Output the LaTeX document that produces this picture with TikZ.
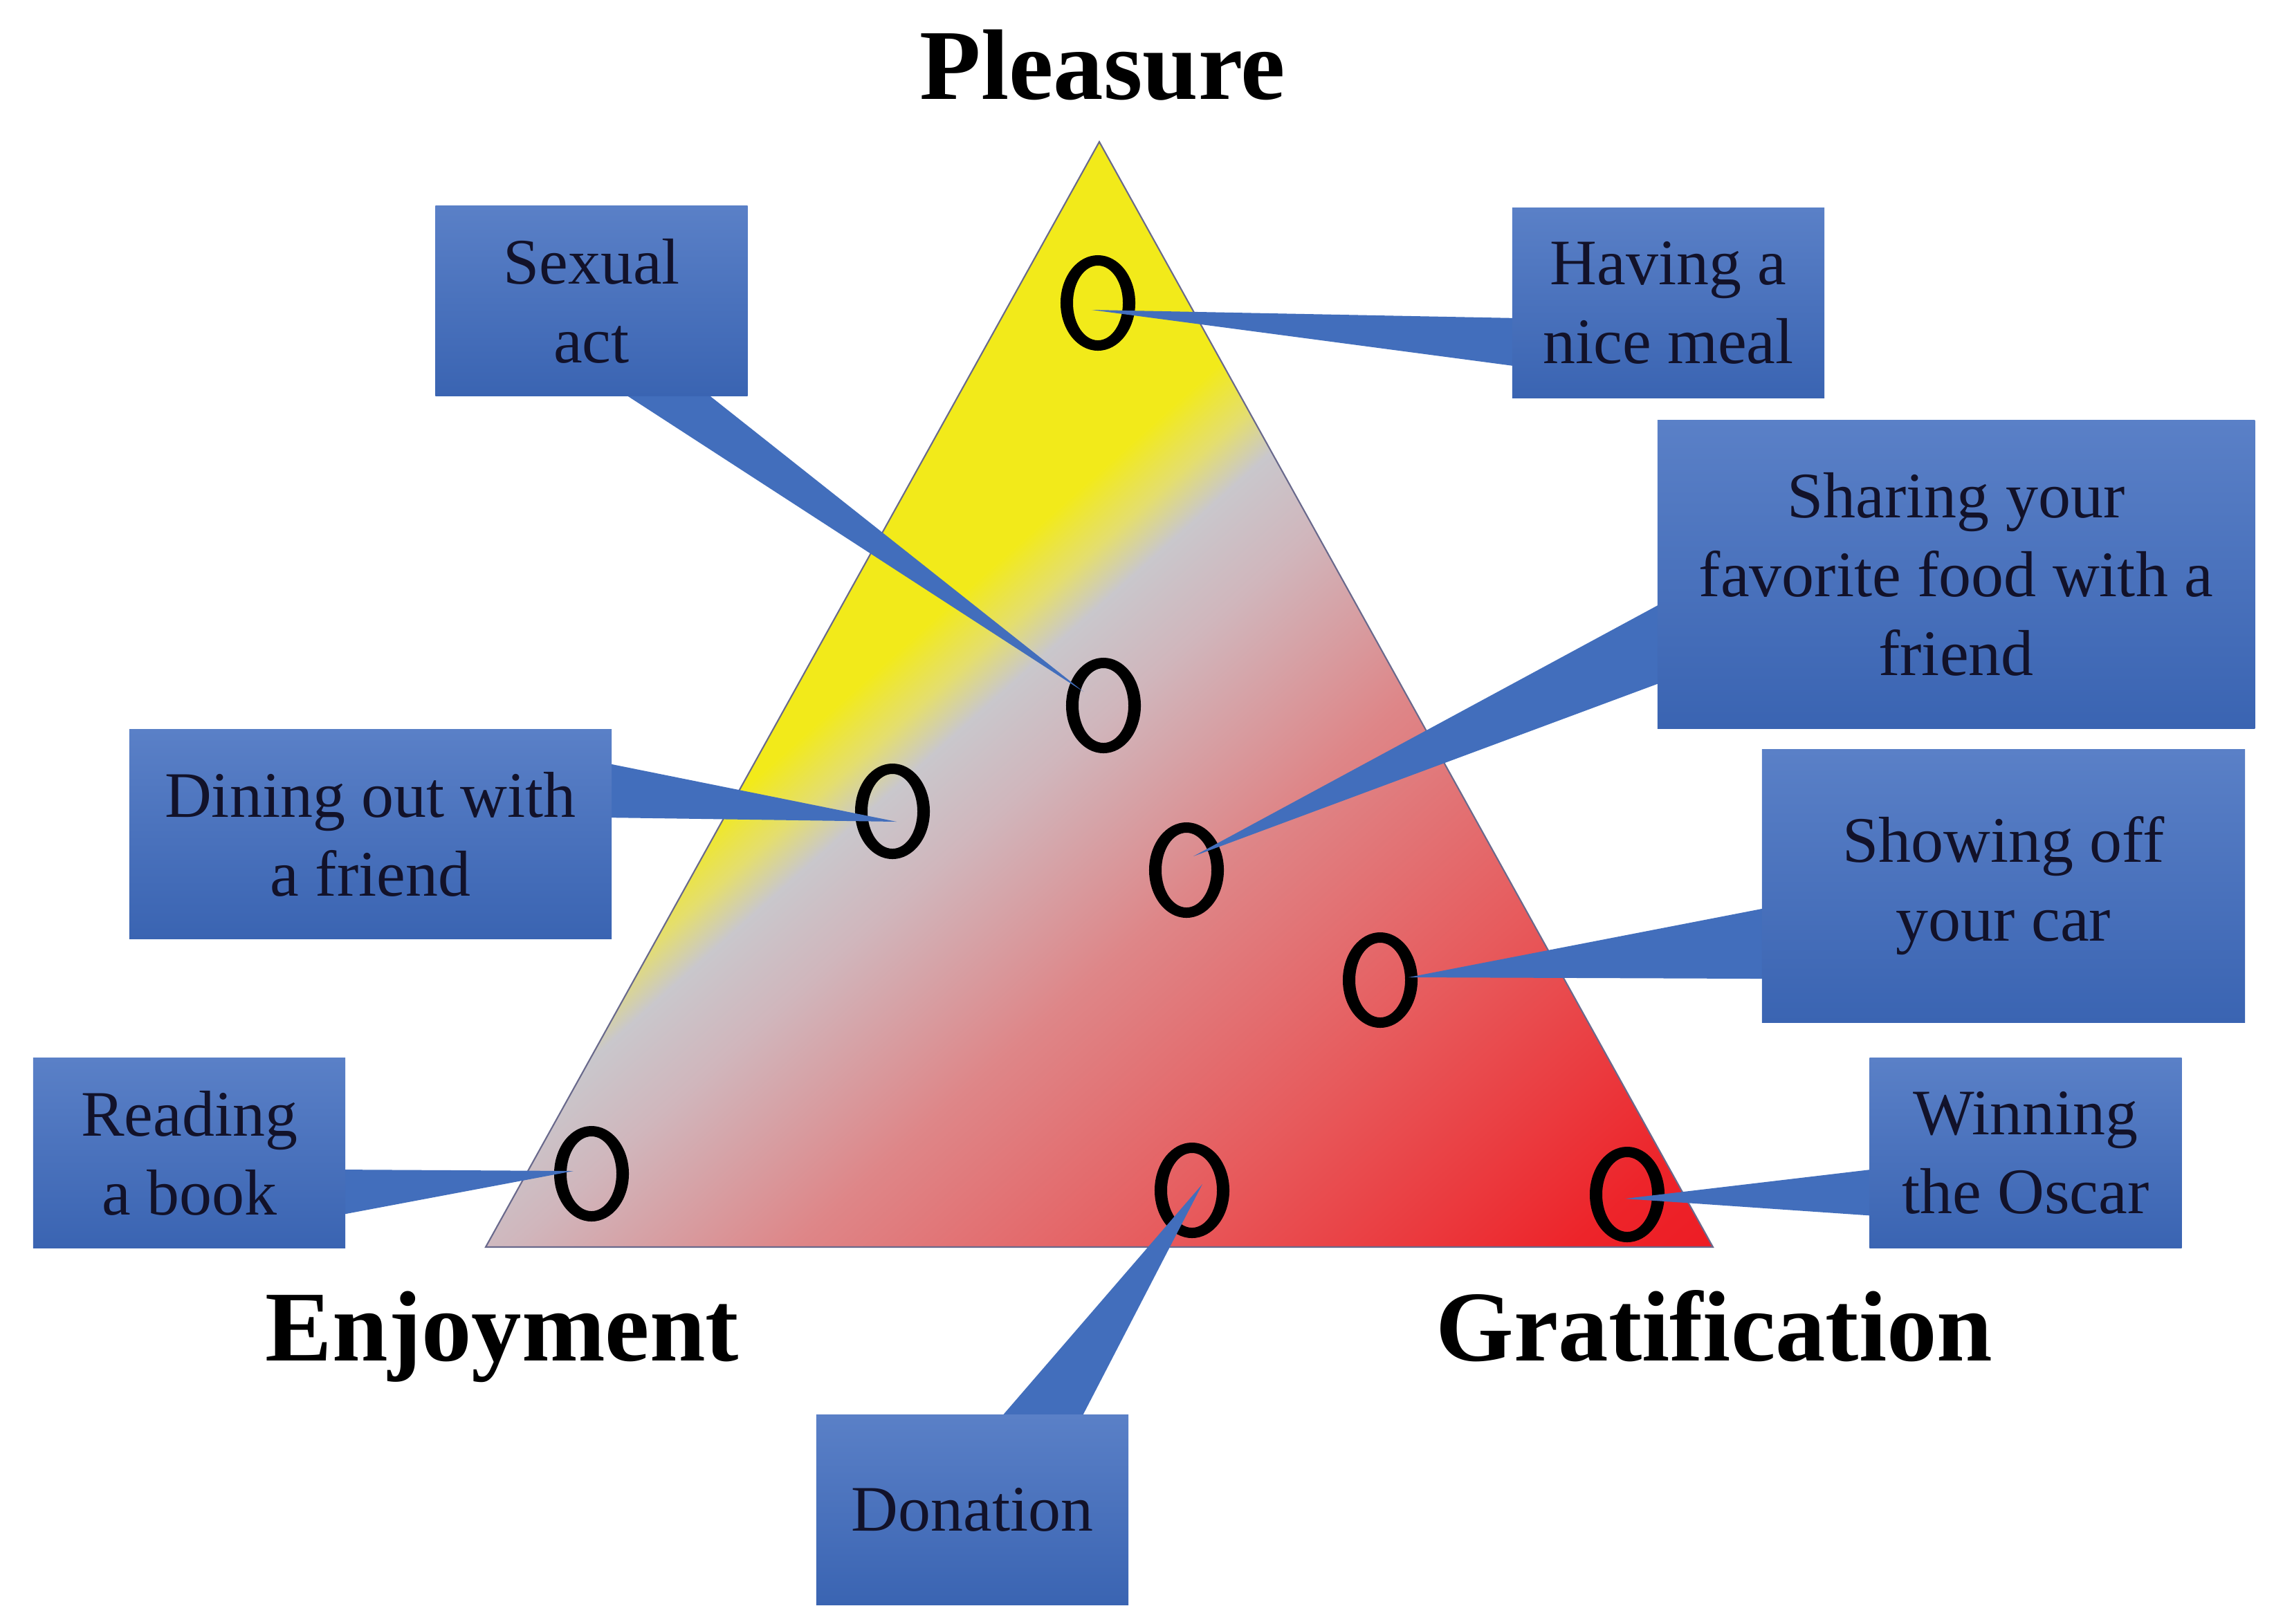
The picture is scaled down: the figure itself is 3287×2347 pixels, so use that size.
\documentclass[tikz,border=0pt]{standalone}
\usepackage{fontspec}
\setmainfont{Liberation Serif}
\pgfdeclarelayer{back}
\pgfsetlayers{back,main}
\definecolor{cR0}{RGB}{237,28,36}
\definecolor{cR1}{RGB}{237,36,42}
\definecolor{cR2}{RGB}{231,90,92}
\definecolor{cR3}{RGB}{222,134,136}
\definecolor{cG1}{RGB}{208,182,188}
\definecolor{cG2}{RGB}{201,199,204}
\definecolor{cY0}{RGB}{228,222,110}
\definecolor{cY1}{RGB}{242,234,26}
\definecolor{boxtop}{RGB}{90,128,199}
\definecolor{boxbot}{RGB}{58,100,178}
\definecolor{ptrc}{RGB}{66,110,188}
\definecolor{txtc}{RGB}{18,18,42}
\definecolor{triline}{RGB}{105,105,140}
\pgfdeclareverticalshading{trishade}{30cm}{color(0cm)=(cR0); color(1.5cm)=(cR1); color(5.5cm)=(cR2); color(9cm)=(cR3); color(11.7cm)=(cG1); color(12.95cm)=(cG2); color(13.6cm)=(cY0); color(14.4cm)=(cY1); color(18cm)=(cY1)}
\newcommand\callfont{\fontsize{26.7pt}{32.4pt}\selectfont}
\newcommand\titlefont{\fontsize{41.2pt}{49pt}\selectfont\bfseries}
\newcommand\ringat[1]{\fill[ring] (#1) ellipse [x radius=0.54cm, y radius=0.69cm] (#1) ellipse [x radius=0.36cm, y radius=0.54cm];}
\begin{document}
\begin{tikzpicture}[x=0.01cm,y=-0.01cm,
  callbox/.style={rectangle, inner sep=0pt, outer sep=0pt, top color=boxtop, bottom color=boxbot, align=center, font=\callfont, text=txtc},
  smallbox/.style={callbox, minimum width=4.51cm, minimum height=2.74cm},
  ptr/.style={fill=ptrc},
  ring/.style={fill=black, even odd rule},
  axislabel/.style={font=\titlefont, anchor=base, text=black, inner sep=0pt}]
\begin{pgfonlayer}{back}
\fill[white] (0,0) rectangle (3287,2347);
\end{pgfonlayer}
\useasboundingbox (0,0) rectangle (3287,2347);
% triangle
\coordinate (A) at (1589,205);
\coordinate (BL) at (702,1803);
\coordinate (BR) at (2476,1803);
% ellipse centres
\coordinate (e-meal) at (1587,438);
\coordinate (e-sex) at (1595,1020);
\coordinate (e-din) at (1290,1173);
\coordinate (e-sha) at (1715,1258);
\coordinate (e-sho) at (1995,1417);
\coordinate (e-rea) at (855,1697);
\coordinate (e-don) at (1723,1721);
\coordinate (e-osc) at (2352,1727);
\begin{pgfonlayer}{back}
\begin{scope}
\clip (A) -- (BL) -- (BR) -- cycle;
\node[inner sep=0pt, outer sep=0pt, rotate=41.76] (shade) at (1656.6,1344.6) {\pgfuseshading{trishade}};
\end{scope}
\draw[triline, line width=0.6pt] (A) -- (BL) -- (BR) -- cycle;
\ringat{e-meal}
\ringat{e-sex}
\ringat{e-din}
\ringat{e-sha}
\ringat{e-sho}
\ringat{e-rea}
\ringat{e-don}
\ringat{e-osc}
\end{pgfonlayer}
% axis labels
\node[axislabel] (pleasure) at (1594,143) {Pleasure};
\node[axislabel] (enjoyment) at (726,1967) {Enjoyment};
\node[axislabel] (gratification) at (2478,1967) {Gratification};
% callout boxes
\node[smallbox] (sexual) at (855,435) {Sexual\\act};
\node[smallbox] (meal) at (2411.5,438) {Having a\\nice meal};
\node[callbox, minimum width=8.63cm, minimum height=4.45cm] (sharing) at (2827.5,830.5) {Sharing your\\favorite food with a\\friend};
\node[callbox, minimum width=6.97cm, minimum height=3.02cm] (dining) at (535.5,1206) {Dining out with\\a friend};
\node[callbox, minimum width=6.98cm, minimum height=3.94cm] (showing) at (2896,1281) {Showing off\\your car};
\node[smallbox] (reading) at (273.5,1667) {Reading\\a book};
\node[smallbox] (oscar) at (2928,1667) {Winning\\the Oscar};
\node[smallbox] (donation) at (1405.5,2183) {Donation};
% pointers
\begin{pgfonlayer}{back}
\fill[ptr] ([xshift=0.1cm,yshift=-0.22cm]meal.west) -- ([shift={(-9,10)}]e-meal) -- ([xshift=0.1cm,yshift=-0.92cm]meal.west) -- cycle;
\fill[ptr] ([xshift=0.36cm,yshift=0.1cm]sexual.south) -- ([shift={(-29,-20)}]e-sex) -- ([xshift=1.58cm,yshift=0.1cm]sexual.south) -- cycle;
\fill[ptr] ([xshift=-0.1cm,yshift=1.03cm]dining.east) -- ([shift={(6,15)}]e-din) -- ([xshift=-0.1cm,yshift=0.24cm]dining.east) -- cycle;
\fill[ptr] ([xshift=0.1cm,yshift=-0.395cm]sharing.west) -- ([shift={(10,-20)}]e-sha) -- ([xshift=0.1cm,yshift=-1.545cm]sharing.west) -- cycle;
\fill[ptr] ([xshift=0.1cm,yshift=-0.31cm]showing.west) -- ([shift={(41,-4)}]e-sho) -- ([xshift=0.1cm,yshift=-1.34cm]showing.west) -- cycle;
\fill[ptr] ([xshift=-0.1cm,yshift=-0.24cm]reading.east) -- ([shift={(-26,-4)}]e-rea) -- ([xshift=-0.1cm,yshift=-0.90cm]reading.east) -- cycle;
\fill[ptr] ([xshift=0.1cm,yshift=-0.23cm]oscar.west) -- ([shift={(-3,6)}]e-osc) -- ([xshift=0.1cm,yshift=-0.91cm]oscar.west) -- cycle;
\fill[ptr] ([xshift=0.355cm,yshift=-0.1cm]donation.north) -- ([shift={(15,-9)}]e-don) -- ([xshift=1.545cm,yshift=-0.1cm]donation.north) -- cycle;
\end{pgfonlayer}
\end{tikzpicture}
\end{document}
